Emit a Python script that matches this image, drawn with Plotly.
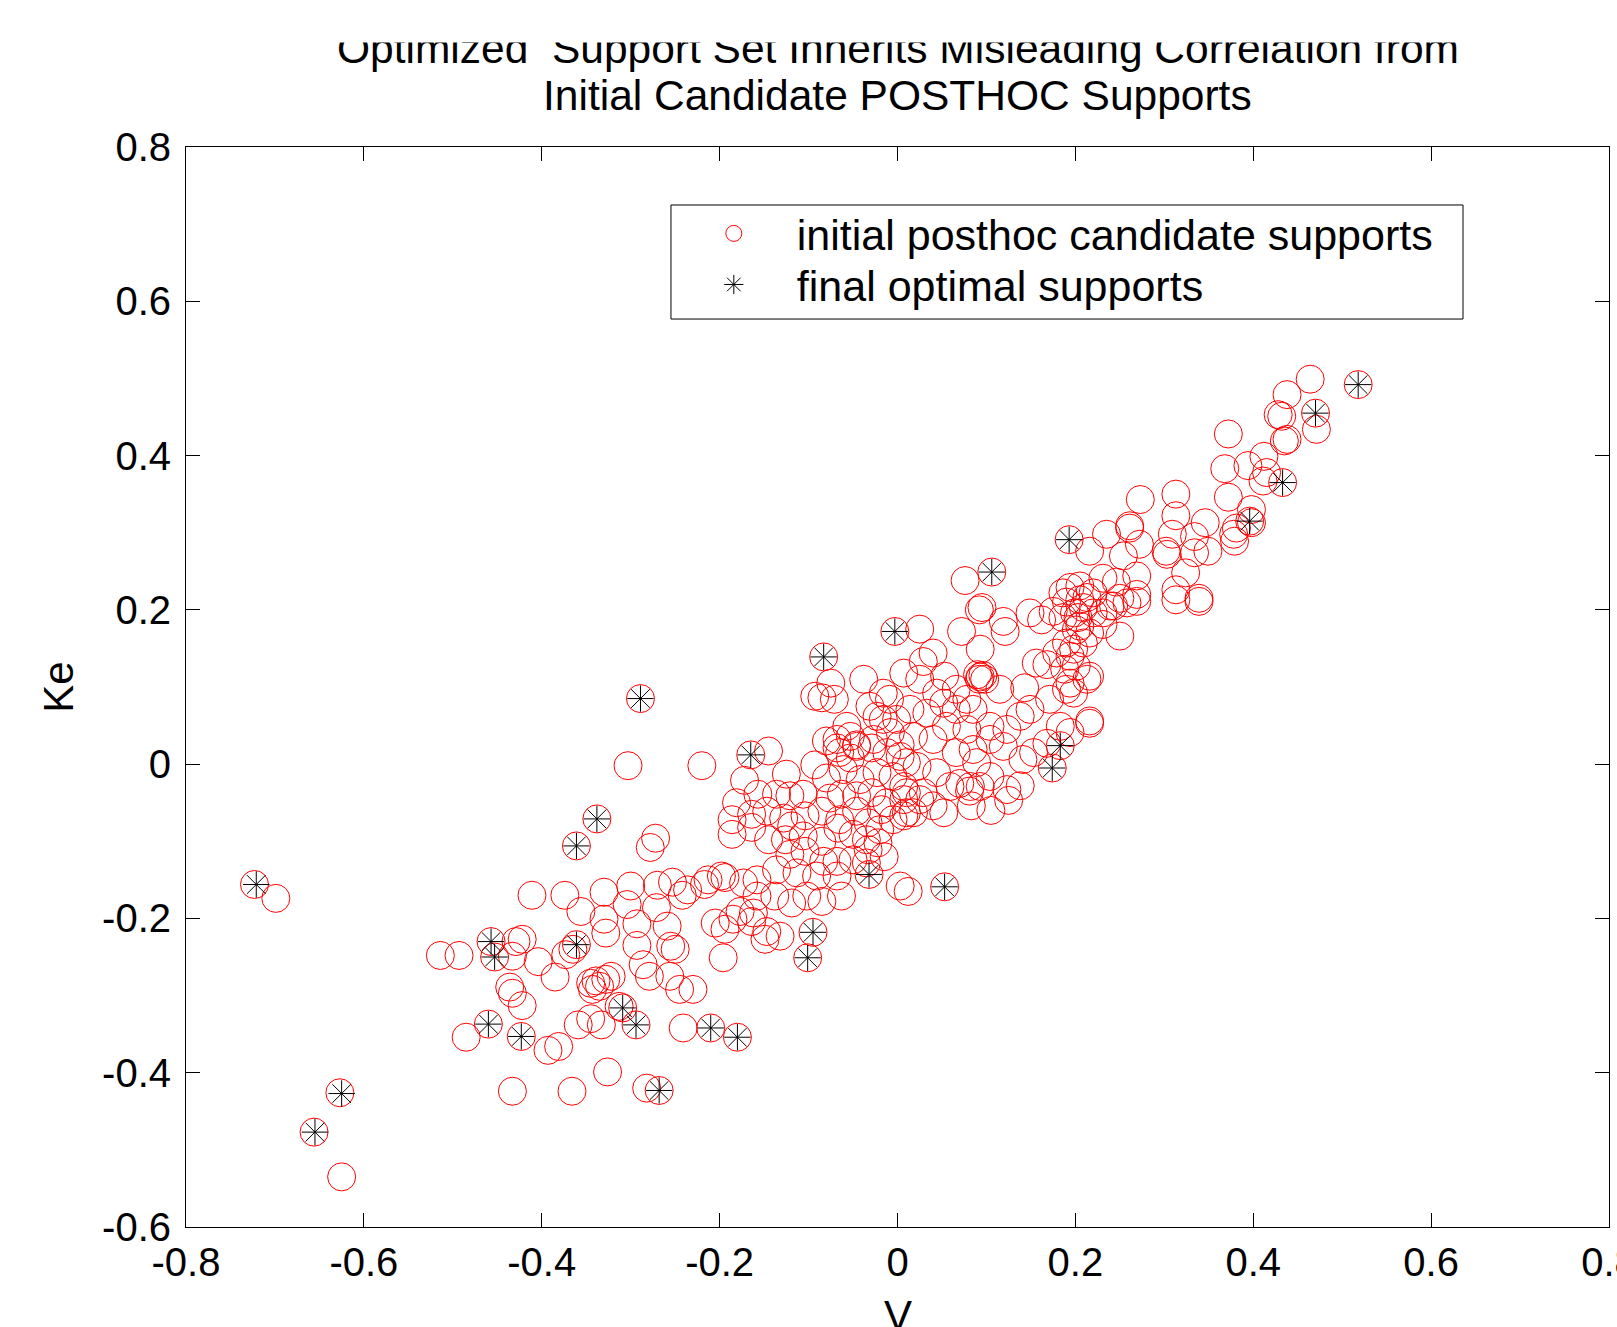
import plotly.graph_objects as go

# ---------------- data ----------------
# initial posthoc candidate supports, grouped by region of the cloud
cand_v_a = [-0.723, -0.699, -0.627, -0.656, -0.625, -0.514, -0.493, -0.457, -0.453, -0.429,
            -0.422, -0.433, -0.404, -0.385, -0.373, -0.361, -0.365, -0.436, -0.433, -0.422,
            -0.460, -0.485, -0.423, -0.393, -0.381, -0.433, -0.366, -0.326, -0.282, -0.268]
cand_ke_a = [-0.156, -0.174, -0.426, -0.477, -0.535, -0.248, -0.248, -0.230, -0.250, -0.230,
             -0.227, -0.249, -0.256, -0.276, -0.247, -0.234, -0.240, -0.289, -0.297, -0.313,
             -0.337, -0.354, -0.353, -0.371, -0.366, -0.424, -0.424, -0.399, -0.420, -0.423]

cand_v_b = [-0.345, -0.339, -0.335, -0.328, -0.322, -0.343,
            -0.309, -0.313, -0.294, -0.359, -0.345, -0.333, -0.241, -0.210, -0.180,
            -0.411, -0.374, -0.356, -0.330, -0.300, -0.304, -0.270, -0.253, -0.242, -0.271,
            -0.259, -0.217, -0.330, -0.328, -0.293, -0.293, -0.255, -0.250, -0.286, -0.279,
            -0.256, -0.245, -0.230,
            -0.338, -0.361, -0.272, -0.278,
            -0.289, -0.303, -0.220, -0.236]
cand_ke_b = [-0.284, -0.281, -0.288, -0.279, -0.275, -0.292,
             -0.316, -0.314, -0.338, -0.338, -0.330, -0.338, -0.342, -0.342, -0.354,
             -0.170, -0.170, -0.191, -0.166, -0.158, -0.182, -0.157, -0.153, -0.170, -0.186,
             -0.210, -0.156, -0.201, -0.219, -0.207, -0.235, -0.236, -0.240, -0.260, -0.275,
             -0.275, -0.292, -0.292,
             -0.071, -0.106, -0.096, -0.108,
             0.085, -0.002, -0.002, -0.163]

cand_v_c = [-0.165, -0.145, -0.093, -0.068, -0.053, -0.046, -0.029, -0.012, 0.003, 0.010,
            -0.172, -0.125, -0.080, -0.061, -0.042, -0.023, -0.005,
            -0.181, -0.157, -0.136, -0.121, -0.106, -0.076, -0.063, -0.046, -0.029, -0.012, 0.007,
            -0.186, -0.164, -0.147, -0.128, -0.119, -0.104, -0.085, -0.065, -0.046, -0.033,
            -0.018, -0.005, 0.010,
            -0.186, -0.164, -0.145, -0.126, -0.106, -0.085, -0.067, -0.050, -0.035,
            -0.121, -0.104, -0.083, -0.068, -0.050, -0.033, -0.035, -0.068, -0.091, -0.113,
            -0.136, -0.158, -0.173, -0.198, -0.194, -0.213,
            -0.032, 0.003, 0.012,
            -0.158, -0.138, -0.119, -0.102, -0.085, -0.063,
            -0.177, -0.162, -0.185, -0.205, -0.194, -0.164, -0.147, -0.132, -0.149, -0.095,
            -0.101, -0.196]
cand_ke_c = [0.012, 0.017, -0.001, 0.021, 0.008, 0.025, 0.021, 0.015, 0.025, 0.002,
             -0.021, -0.013, -0.018, -0.007, -0.020, -0.011, -0.016,
             -0.050, -0.039, -0.039, -0.041, -0.039, -0.044, -0.039, -0.041, -0.037, -0.050, -0.046,
             -0.072, -0.065, -0.061, -0.070, -0.080, -0.067, -0.061, -0.072, -0.061, -0.076,
             -0.059, -0.072, -0.063,
             -0.091, -0.082, -0.098, -0.098, -0.093, -0.100, -0.083, -0.091, -0.098,
             -0.117, -0.113, -0.126, -0.126, -0.124, -0.111, -0.128, -0.145, -0.145, -0.141,
             -0.137, -0.150, -0.154, -0.145, -0.147, -0.150,
             -0.143, -0.158, -0.165,
             -0.171, -0.171, -0.180, -0.171, -0.178, -0.171,
             -0.191, -0.193, -0.201, -0.206, -0.214, -0.204, -0.217, -0.223, -0.227, -0.218,
             -0.251, -0.251]

cand_v_d = [-0.083, -0.075, -0.093, -0.085, -0.071, -0.038, -0.016, -0.031, -0.023, -0.016,
            -0.057, -0.053, -0.027, -0.008, -0.046, -0.068, -0.080, -0.065]
cand_ke_d = [0.139, 0.105, 0.088, 0.086, 0.084, 0.110, 0.092, 0.075, 0.062, 0.058,
             0.049, 0.036, 0.032, 0.041, 0.023, 0.032, 0.030, 0.015]

cand_v_e = [-0.003, 0.025, 0.007, 0.025, 0.040, 0.029, 0.053, 0.072, 0.093, 0.095,
            0.119, 0.121, 0.149, 0.162, 0.175, 0.186, 0.199, 0.209, 0.201, 0.190,
            0.179, 0.168, 0.188, 0.201, 0.213, 0.156,
            0.090, 0.093, 0.096, 0.092, 0.098,
            0.115, 0.143, 0.149, 0.138, 0.171, 0.190, 0.216, 0.183, 0.168, 0.183, 0.174,
            0.078, 0.085, 0.066, 0.052, 0.033, 0.014, -0.001, -0.009, 0.066, 0.044,
            0.104, 0.119, 0.141, 0.153, 0.104, 0.123,
            0.082, 0.104, 0.123, 0.059, 0.029, 0.007, 0.044, 0.022, 0.003, 0.066,
            0.085, 0.040, 0.018, 0.055, 0.078, 0.089, 0.138]
cand_ke_e = [0.172, 0.175, 0.118, 0.110, 0.144, 0.133, 0.114, 0.172, 0.149, 0.203,
             0.185, 0.172, 0.196, 0.187, 0.198, 0.190, 0.196, 0.203, 0.174, 0.157,
             0.144, 0.129, 0.123, 0.127, 0.110, 0.131,
             0.116, 0.113, 0.115, 0.110, 0.110,
             0.097, 0.099, 0.071, 0.062, 0.084, 0.097, 0.053, 0.049, 0.027, 0.024, -0.005,
             0.084, 0.071, 0.071, 0.079, 0.066, 0.071, 0.058, 0.084, 0.097, 0.092,
             0.032, 0.023, 0.006, 0.015, 0.049, 0.045,
             -0.029, -0.016, -0.033, -0.029, -0.037, -0.029, -0.011, -0.003, 0.010, 0.015,
             0.019, 0.032, 0.036, 0.049, 0.045, 0.002, -0.028]

cand_v_f = [0.125, 0.083, 0.081, 0.093, 0.052, 0.040, 0.025, 0.010, 0.018, 0.007,
            0.053, -0.022, -0.020, -0.015, 0.070, 0.105]
cand_ke_f = [-0.047, -0.054, -0.035, -0.029, -0.063, -0.054, -0.046, -0.037, -0.063, -0.067,
             -0.159, -0.102, -0.085, -0.120, -0.025, -0.060]

cand_v_g = [0.339, 0.313, 0.269, 0.250, 0.231, 0.216, 0.205, 0.203, 0.220, 0.239,
            0.258, 0.209, 0.198, 0.194, 0.216, 0.198, 0.194, 0.216, 0.194, 0.186,
            0.213, 0.231, 0.190, 0.205, 0.243]
cand_ke_g = [0.211, 0.213, 0.211, 0.166, 0.181, 0.170, 0.179, 0.190, 0.196, 0.205,
             0.209, 0.157, 0.149, 0.140, 0.114, 0.092, 0.105, 0.056, 0.041, 0.222,
             0.216, 0.196, 0.210, 0.213, 0.205]

cand_v_h = [0.464, 0.438, 0.428, 0.432, 0.518, 0.470, 0.471, 0.438, 0.435, 0.372,
            0.412, 0.394, 0.368, 0.415, 0.411, 0.433, 0.372, 0.398, 0.396, 0.398,
            0.381, 0.378, 0.379,
            0.273, 0.313, 0.313, 0.261, 0.261, 0.235, 0.309, 0.346, 0.334, 0.272,
            0.254, 0.302, 0.303, 0.334, 0.349, 0.216, 0.269, 0.324, 0.313, 0.339,
            0.231, 0.246, 0.205, 0.220, 0.250, 0.269, 0.193]
cand_ke_h = [0.499, 0.479, 0.453, 0.451, 0.492, 0.455, 0.434, 0.421, 0.419, 0.428,
             0.399, 0.387, 0.383, 0.378, 0.367, 0.365, 0.346, 0.330, 0.315, 0.313,
             0.306, 0.298, 0.289,
             0.343, 0.350, 0.322, 0.309, 0.306, 0.298, 0.298, 0.313, 0.295, 0.285,
             0.270, 0.276, 0.272, 0.274, 0.276, 0.276, 0.244, 0.248, 0.226, 0.215,
             0.241, 0.236, 0.231, 0.222, 0.215, 0.220, 0.291]

cand_v_i = [0.106, 0.076, 0.092, 0.194]
cand_ke_i = [0.249, 0.238, 0.200, 0.229]

# final optimal supports
opt_v = [-0.721, -0.625, -0.655, -0.457, -0.453, -0.460, -0.423, -0.361, -0.361, -0.338,
         -0.289, -0.309, -0.294, -0.268, -0.210, -0.180, -0.165, -0.095, -0.101, -0.083,
         -0.032, -0.003, 0.053, 0.106, 0.174, 0.183, 0.193, 0.396, 0.433, 0.470, 0.518]
opt_ke = [-0.156, -0.427, -0.477, -0.230, -0.250, -0.337, -0.353, -0.234, -0.106, -0.071,
          0.085, -0.316, -0.338, -0.423, -0.342, -0.354, 0.012, -0.218, -0.251, 0.139,
          -0.143, 0.172, -0.159, 0.249, -0.005, 0.024, 0.291, 0.315, 0.365, 0.455, 0.492]

x_ticks = [-0.8, -0.6, -0.4, -0.2, 0, 0.2, 0.4, 0.6, 0.8]
x_tick_labels = ["-0.8", "-0.6", "-0.4", "-0.2", "0", "0.2", "0.4", "0.6", "0.8"]
y_ticks = [-0.6, -0.4, -0.2, 0, 0.2, 0.4, 0.6, 0.8]
y_tick_labels = ["-0.6", "-0.4", "-0.2", "0", "0.2", "0.4", "0.6", "0.8"]

title_line1 = "Optimized\u00a0 Support Set Inherits Misleading Correlation from"
title_line2 = "Initial Candidate POSTHOC Supports"
x_label = "V"
y_label = "Ke"

cand_v = (cand_v_a + cand_v_b + cand_v_c + cand_v_d + cand_v_e + cand_v_f
          + cand_v_g + cand_v_h + cand_v_i)
cand_ke = (cand_ke_a + cand_ke_b + cand_ke_c + cand_ke_d + cand_ke_e + cand_ke_f
           + cand_ke_g + cand_ke_h + cand_ke_i)

FONT = "Liberation Sans, Arial, Helvetica, sans-serif"

fig = go.Figure()
fig.add_trace(go.Scatter(
    x=cand_v, y=cand_ke, mode="markers",
    name="initial posthoc candidate supports", legend="legend",
    marker=dict(symbol="circle-open", size=28, color="#ff0000",
                line=dict(width=1, color="#ff0000")),
))
fig.add_trace(go.Scatter(
    x=opt_v, y=opt_ke, mode="markers",
    name="final optimal supports", legend="legend2",
    marker=dict(symbol="asterisk-open", size=22, color="#000000",
                line=dict(width=1, color="#000000")),
))

axis_common = dict(
    showgrid=False, zeroline=False, showline=True, linecolor="black", linewidth=1,
    mirror="allticks", ticks="inside", ticklen=14, tickwidth=1, tickcolor="black",
    tickfont=dict(family=FONT, size=40, color="black"),
    ticklabeloverflow="allow", automargin=False,
)

legend_common = dict(
    xanchor="left", yanchor="top", bgcolor="rgba(0,0,0,0)", borderwidth=0,
    font=dict(family=FONT, size=43, color="black"), itemwidth=116,
)

fig.update_layout(
    width=1617, height=1327,
    margin=dict(l=186, r=8, t=147, b=100, pad=0, autoexpand=False),
    paper_bgcolor="white", plot_bgcolor="white",
    font=dict(family=FONT, size=40, color="black"),
    xaxis=dict(range=[-0.8, 0.8], tickvals=x_ticks, ticktext=x_tick_labels,
               ticklabelstandoff=0,
               **axis_common),
    yaxis=dict(range=[-0.6, 0.8], tickvals=y_ticks, ticktext=y_tick_labels,
               title=dict(text=y_label, font=dict(family=FONT, size=42), standoff=15),
               ticklabelstandoff=6,
               **axis_common),
    showlegend=True,
    legend=dict(x=0.3407, y=0.9519, **legend_common),
    legend2=dict(x=0.3407, y=0.9046, **legend_common),
    shapes=[dict(type="rect", xref="paper", yref="paper",
                 x0=0.3408, x1=0.8974, y0=0.8407, y1=0.9463,
                 line=dict(color="black", width=1), fillcolor="white", layer="above")],
    annotations=[
        dict(text=title_line1, xref="paper", yref="paper", x=0.5, y=1.0912,
             xanchor="center", yanchor="middle", showarrow=False,
             font=dict(family=FONT, size=42.5, color="black")),
        dict(text=title_line2, xref="paper", yref="paper", x=0.5, y=1.0477,
             xanchor="center", yanchor="middle", showarrow=False,
             font=dict(family=FONT, size=42.5, color="black")),
        # white strip that hides the top of the first title line, as in the reference
        dict(text=" ", xref="paper", yref="paper", x=0.5, y=1.0963,
             xanchor="center", yanchor="bottom", showarrow=False,
             width=1500, height=80, bgcolor="white", borderpad=0,
             font=dict(family=FONT, size=10, color="white")),
        # x-axis label, sitting at the bottom edge like in the reference
        dict(text=x_label, xref="paper", yref="paper", x=0.5, y=-0.0815,
             xanchor="center", yanchor="middle", showarrow=False,
             font=dict(family=FONT, size=42, color="black")),
    ],
)

fig.write_html("out.html")
